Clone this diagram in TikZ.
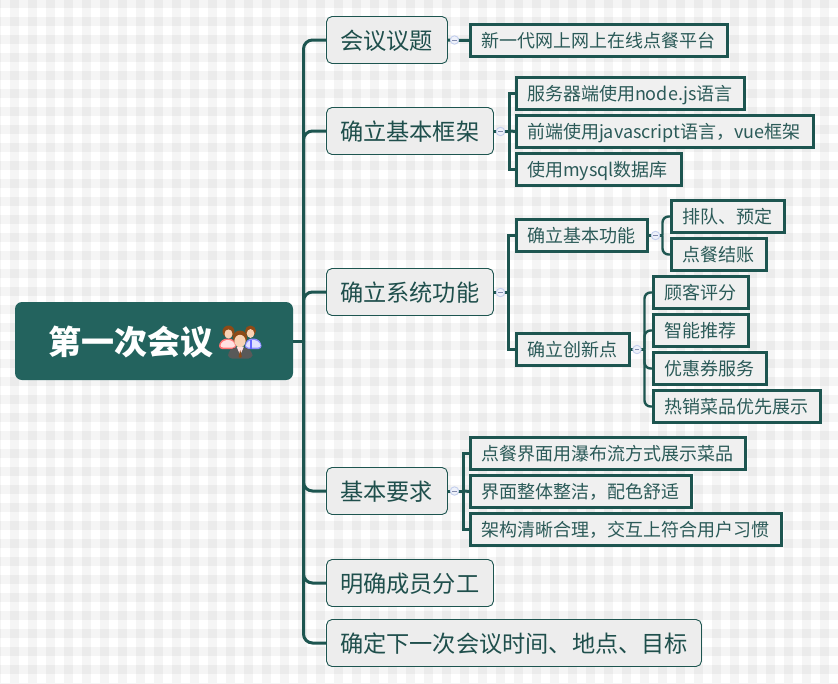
\documentclass[tikz,border=0pt]{standalone}
\usepackage{fontspec}
\setmainfont{Noto Sans CJK SC}
\definecolor{teal1}{HTML}{23635E}
\definecolor{teal2}{HTML}{1D5550}
\definecolor{txt1}{HTML}{1F4F4C}
\definecolor{txt2}{HTML}{2B5A58}
\definecolor{hair}{HTML}{8E4A17}
\definecolor{skin}{HTML}{F8D2B4}
\tikzset{
  lvone/.style={draw=teal2,line width=.9pt,fill=black!7,rounded corners=5.5pt,inner xsep=0pt,inner ysep=0pt,outer sep=0pt,
    text=txt1,font=\fontsize{23.2}{28}\selectfont,text height=22pt,text depth=3pt},
  lvtwo/.style={draw=teal2,line width=3pt,fill=black!6,inner xsep=0pt,inner ysep=0pt,outer sep=0pt,
    text=txt2,font=\fontsize{18}{22}\selectfont,text height=16.5pt,text depth=2.5pt},
  rootbox/.style={fill=teal1,rounded corners=7pt,inner sep=0pt,outer sep=0pt,text=white,
    font=\bfseries\fontsize{33}{40}\selectfont,text height=31pt,text depth=4pt},
  trunkline/.style={draw=teal2,line width=3pt,rounded corners=9pt},
  busline/.style={draw=teal2,line width=3pt,line join=miter},
  thinbus/.style={draw=teal2,line width=2.4pt,rounded corners=6pt},
  minusdot/.style={circle,inner sep=0pt,minimum size=8.5pt,line width=.9pt,
    draw={rgb,255:red,196;green,208;blue,238},fill={rgb,255:red,238;green,241;blue,250},
    path picture={\draw[line width=.7pt,draw={rgb,255:red,130;green,140;blue,175}]
      ([xshift=2pt]path picture bounding box.west) -- ([xshift=-2pt]path picture bounding box.east);}}
}
\newcommand\lvA[6]{%
  \pgfmathsetmacro\wW{#4-#2}\pgfmathsetmacro\hH{#5-#3}%
  \node[lvone,anchor=north west,minimum height=\hH pt] (#1) at (#2,#3) {\makebox[\wW pt][l]{\hspace{13.5pt}#6}};}
\newcommand\lvB[6]{%
  \pgfmathsetmacro\wW{#4-#2-3}\pgfmathsetmacro\hH{#5-#3-3}%
  \node[lvtwo,anchor=north west,minimum height=\hH pt] (#1) at (#2+1.5,#3+1.5) {\makebox[\wW pt][l]{\hspace{10.5pt}#6}};}
\begin{document}
\begin{tikzpicture}[x=1pt,y=-1pt]
\useasboundingbox (0,0) rectangle (838,683);
\begin{scope}
  \clip (0,0) rectangle (838,683);
  \fill[white] (0,0) rectangle (838,683);
  \foreach \i in {0,...,47}{\fill[black,opacity=.04] ({-8+18*\i},0) rectangle ({1+18*\i},683);}
  \foreach \i in {0,...,38}{\fill[black,opacity=.04] (0,{-1+18*\i}) rectangle (838,{8+18*\i});}
\end{scope}

% root
\node[rootbox,anchor=north west,minimum height=78pt] (root) at (15,302) {\makebox[278pt][l]{\hspace{33pt}第一次会议}};

% level one
\lvA{a}{326.5}{16.5}{447.5}{63.5}{会议议题}
\lvA{b}{326.5}{107.5}{493.5}{154.5}{确立基本框架}
\lvA{c}{326.5}{268.5}{493.5}{315.5}{确立系统功能}
\lvA{d}{326.5}{467.5}{447.5}{514.5}{基本要求}
\lvA{e}{326.5}{559.5}{493.5}{606.5}{明确成员分工}
\lvA{f}{326.5}{619.5}{701.5}{666.5}{确定下一次会议时间、地点、目标}

% level two
\lvB{a1}{469}{23}{729}{58}{新一代网上网上在线点餐平台}
\lvB{b1}{515}{76}{746}{111}{服务器端使用node.js语言}
\lvB{b2}{515}{114}{815}{149}{前端使用javascript语言，vue框架}
\lvB{b3}{515}{152}{683}{187}{使用mysql数据库}
\lvB{c1}{515}{218}{649}{253}{确立基本功能}
\lvB{c2}{515}{332}{631}{367}{确立创新点}
\lvB{c11}{670}{199}{786}{234}{排队、预定}
\lvB{c12}{670}{237}{768}{272}{点餐结账}
\lvB{c21}{652}{275}{750}{310}{顾客评分}
\lvB{c22}{652}{313}{750}{348}{智能推荐}
\lvB{c23}{652}{351}{768}{386}{优惠券服务}
\lvB{c24}{652}{389}{822}{424}{热销菜品优先展示}
\lvB{d1}{469}{436}{747}{471}{点餐界面用瀑布流方式展示菜品}
\lvB{d2}{469}{474}{693}{509}{界面整体整洁，配色舒适}
\lvB{d3}{469}{512}{783}{547}{架构清晰合理，交互上符合用户习惯}

% main trunk
\coordinate (rt) at (303.5,341);
\draw[busline] (root.east) -- (rt);
\foreach \n in {a,b,c,d,e,f}{\draw[trunkline] (rt) |- (\n.west);}

% second level buses
\draw[busline] (a.east) -- (a1.west);
\coordinate (bb) at (509.5,131);
\draw[busline] (b.east) -- (bb);
\draw[busline] (b2.west) -- (bb);
\draw[busline] (b1.west) -| (bb) |- (b3.west);
\coordinate (cb) at (508.5,292);
\draw[busline] (c.east) -- (cb);
\draw[busline] (c1.west) -| (cb) |- (c2.west);
\coordinate (db) at (463,491);
\draw[busline] (d.east) -- (db);
\draw[busline] (d2.west) -- (db);
\draw[busline] (d1.west) -| (db) |- (d3.west);

% third level buses
\coordinate (c1b) at (662.5,235.5);
\draw[busline,line width=2.4pt] (c1.east) -- (c1b);
\draw[thinbus] (c1b) |- (c11.west);
\draw[thinbus] (c1b) |- (c12.west);
\coordinate (c2b) at (644.5,349.5);
\draw[busline,line width=2.4pt] (c2.east) -- (c2b);
\foreach \n in {c21,c22,c23,c24}{\draw[thinbus] (c2b) |- (\n.west);}

% collapse markers
\node[minusdot] (ma) at (454.5,40) {};
\node[minusdot] (mb) at (500.5,131.5) {};
\node[minusdot] (mc) at (500.5,292.5) {};
\node[minusdot] (md) at (454.5,491) {};
\node[minusdot] (mc1) at (655.5,235.5) {};
\node[minusdot] (mc2) at (637,349.5) {};

% people icon
\begin{scope}
  % left person
  \fill[red!55!white,rounded corners=3pt] (219,349) -- (219,343) -- (224,338.5) -- (232,338.5) -- (236,343) -- (236,349) -- cycle;
  \fill[red!12!white,rounded corners=2.5pt] (220.5,347.5) -- (220.5,343.5) -- (225,340) -- (231,340) -- (235,343.5) -- (235,347.5) -- cycle;
  \fill[hair] (228.5,331.5) circle (6);
  \fill[skin] (228.5,334) ellipse (4 and 4.6);
  % right person
  \fill[blue!45!white,rounded corners=3pt] (245,349) -- (245,343) -- (249,338.5) -- (257,338.5) -- (261.5,343) -- (261.5,349) -- cycle;
  \fill[blue!12!white,rounded corners=2.5pt] (246,347.5) -- (246,343.5) -- (250,340) -- (256,340) -- (260.5,343.5) -- (260.5,347.5) -- cycle;
  \fill[blue!60!white] (249.8,339.5) rectangle (251.8,348.5);
  \fill[hair] (250.5,331) circle (5.5);
  \fill[skin] (250.5,333.5) ellipse (3.8 and 4.4);
  % centre person
  \fill[black!65,rounded corners=4pt] (228,358.5) -- (228,352) -- (233,347.5) -- (247,347.5) -- (252.5,352) -- (252.5,358.5) -- cycle;
  \fill[white!88!red] (236.5,346.5) -- (244,346.5) -- (240.2,355) -- cycle;
  \fill[hair] (240.2,350) -- (241.8,356.5) -- (240.2,358) -- (238.6,356.5) -- cycle;
  \fill[hair] (240,337.5) circle (7);
  \fill[skin] (240,341) ellipse (5.6 and 6.2);
\end{scope}
\end{tikzpicture}
\end{document}
